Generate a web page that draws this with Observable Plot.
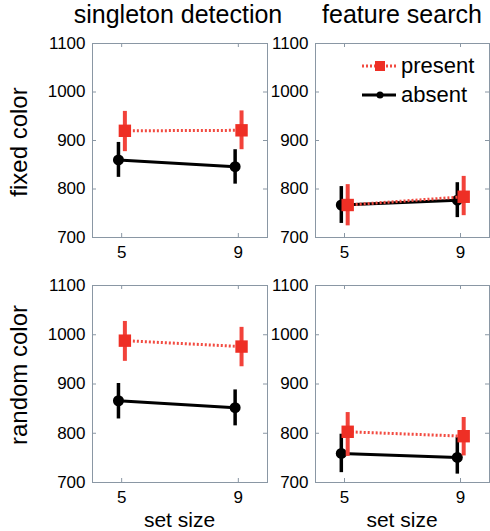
<!DOCTYPE html>
<html>
<head>
<meta charset="utf-8">
<script src="https://cdn.jsdelivr.net/npm/d3@7"></script>
<script src="https://cdn.jsdelivr.net/npm/@observablehq/plot@0.6"></script>
<style>
  html, body { margin: 0; padding: 0; background: #fff; overflow: hidden; }
  #root { position: relative; width: 490px; height: 531px; font-family: "Liberation Sans", Arial, sans-serif; color: #000; }
  .abs { position: absolute; white-space: nowrap; line-height: 1; }
  .title { font-size: 25px; transform: translateX(-50%); }
  .rowlab { font-size: 24px; transform: translate(-50%, -50%) rotate(-90deg); }
  .xlab { font-size: 21px; transform: translateX(-50%); }
  .leg { font-size: 22px; display: flex; align-items: center; }
  svg.plot { position: absolute; }
</style>
</head>
<body>
<div id="root"></div>
<script>
// ---- data ----
const setSizes = [5, 9];
const yTicks = [700, 800, 900, 1000, 1100];
const tasks = ["singleton detection", "feature search"];
const colorConds = ["fixed color", "random color"];
const xLabel = "set size";
const seriesNames = ["present", "absent"];
// panel order: [fixed/singleton, fixed/feature, random/singleton, random/feature]
const presentMean = [[920, 921], [767, 784], [988, 976], [803, 794]];
const presentLo   = [[877, 881], [724, 745], [946, 935], [753, 754]];
const presentHi   = [[960, 961], [809, 826], [1027, 1015], [842, 832]];
const absentMean  = [[860, 846], [767, 777], [866, 852], [759, 751]];
const absentLo    = [[824, 810], [729, 741], [829, 815], [720, 717]];
const absentHi    = [[896, 881], [805, 813], [901, 888], [798, 791]];

// ---- layout ----
const RED = "#ee2f25";
const FRAME = "#8a97a4";
const root = document.getElementById("root");
const ML = 52, MR = 2, MT = 6, MB = 32;
const colLeft = [92, 315], colW = [175, 174];
const rowTop = [43, 285], rowH = [194, 197];

function panel(i) {
  const row = Math.floor(i / 2), col = i % 2;
  const W = colW[col], H = rowH[row];
  const present = setSizes.map((s, j) => ({x: s + 0.11, y: presentMean[i][j], lo: presentLo[i][j], hi: presentHi[i][j]}));
  const absent = setSizes.map((s, j) => ({x: s - 0.11, y: absentMean[i][j], lo: absentLo[i][j], hi: absentHi[i][j]}));
  const p = Plot.plot({
    width: ML + W + MR,
    height: MT + H + MB,
    marginLeft: ML, marginRight: MR, marginTop: MT, marginBottom: MB,
    x: {domain: [4, 10]},
    y: {domain: [700, 1100]},
    style: {fontFamily: "'Liberation Sans', Arial, sans-serif", fontSize: "17px", background: "transparent", color: "#000", overflow: "visible"},
    marks: [
      Plot.frame({stroke: FRAME, strokeWidth: 1}),
      Plot.tickX(setSizes, {x: d => d, insetBottom: H - 4, stroke: FRAME}),
      Plot.tickX(setSizes, {x: d => d, insetTop: H - 4, stroke: FRAME}),
      Plot.tickY(yTicks.slice(1, -1), {y: d => d, insetRight: W - 4, stroke: FRAME}),
      Plot.tickY(yTicks.slice(1, -1), {y: d => d, insetLeft: W - 4, stroke: FRAME}),
      Plot.axisX(setSizes, {tickSize: 0, tickPadding: 8, label: null, fontSize: 17, tickFormat: d => String(d)}),
      Plot.axisY(yTicks, {tickSize: 0, tickPadding: 7, label: null, fontSize: 17, tickFormat: d => String(d)}),
      Plot.ruleX(absent, {x: "x", y1: "lo", y2: "hi", stroke: "#000", strokeWidth: 3.5}),
      Plot.line(absent, {x: "x", y: "y", stroke: "#000", strokeWidth: 3}),
      Plot.dot(absent, {x: "x", y: "y", r: 5.5, fill: "#000", stroke: "none"}),
      Plot.ruleX(present, {x: "x", y1: "lo", y2: "hi", stroke: "#f2423a", strokeWidth: 4}),
      Plot.line(present, {x: "x", y: "y", stroke: "#f24a40", strokeWidth: 3, strokeDasharray: "2,2", strokeLinecap: "butt"}),
      Plot.dot(present, {x: "x", y: "y", r: 7, symbol: "square", fill: RED, stroke: "none"})
    ]
  });
  p.classList.add("plot");
  p.style.left = (colLeft[col] - ML) + "px";
  p.style.top = (rowTop[row] - MT) + "px";
  root.appendChild(p);
}
for (let i = 0; i < 4; i++) panel(i);

function addText(cls, text, left, top) {
  const d = document.createElement("div");
  d.className = "abs " + cls;
  d.textContent = text;
  d.style.left = left + "px";
  d.style.top = top + "px";
  root.appendChild(d);
  return d;
}
// column titles
addText("title", tasks[0], 178, 2);
addText("title", tasks[1], 402, 2);
// row labels
addText("rowlab", colorConds[0], 19, 142);
addText("rowlab", colorConds[1], 19, 375);
// x labels
addText("xlab", xLabel, 179.5, 509);
addText("xlab", xLabel, 402, 509);

// legend (inside feature search / fixed color panel)
function legendItem(name, top, isPresent) {
  const d = document.createElement("div");
  d.className = "abs leg";
  d.style.left = "362px";
  d.style.top = (top - 12) + "px";
  d.style.height = "24px";
  const ns = "http://www.w3.org/2000/svg";
  const s = document.createElementNS(ns, "svg");
  s.setAttribute("width", "36"); s.setAttribute("height", "24");
  const l = document.createElementNS(ns, "line");
  l.setAttribute("x1", "0"); l.setAttribute("x2", "34"); l.setAttribute("y1", "12"); l.setAttribute("y2", "12");
  l.setAttribute("stroke", isPresent ? "#f24a40" : "#000");
  l.setAttribute("stroke-width", "3");
  if (isPresent) l.setAttribute("stroke-dasharray", "2,2");
  s.appendChild(l);
  if (isPresent) {
    const r = document.createElementNS(ns, "rect");
    r.setAttribute("x", "13"); r.setAttribute("y", "7"); r.setAttribute("width", "10"); r.setAttribute("height", "10");
    r.setAttribute("fill", RED);
    s.appendChild(r);
  } else {
    const c = document.createElementNS(ns, "circle");
    c.setAttribute("cx", "18"); c.setAttribute("cy", "12"); c.setAttribute("r", "3.5");
    c.setAttribute("fill", "#000");
    s.appendChild(c);
  }
  d.appendChild(s);
  const t = document.createElement("span");
  t.textContent = name;
  t.style.marginLeft = "3px";
  d.appendChild(t);
  root.appendChild(d);
}
legendItem(seriesNames[0], 66, true);
legendItem(seriesNames[1], 95, false);
</script>
</body>
</html>
